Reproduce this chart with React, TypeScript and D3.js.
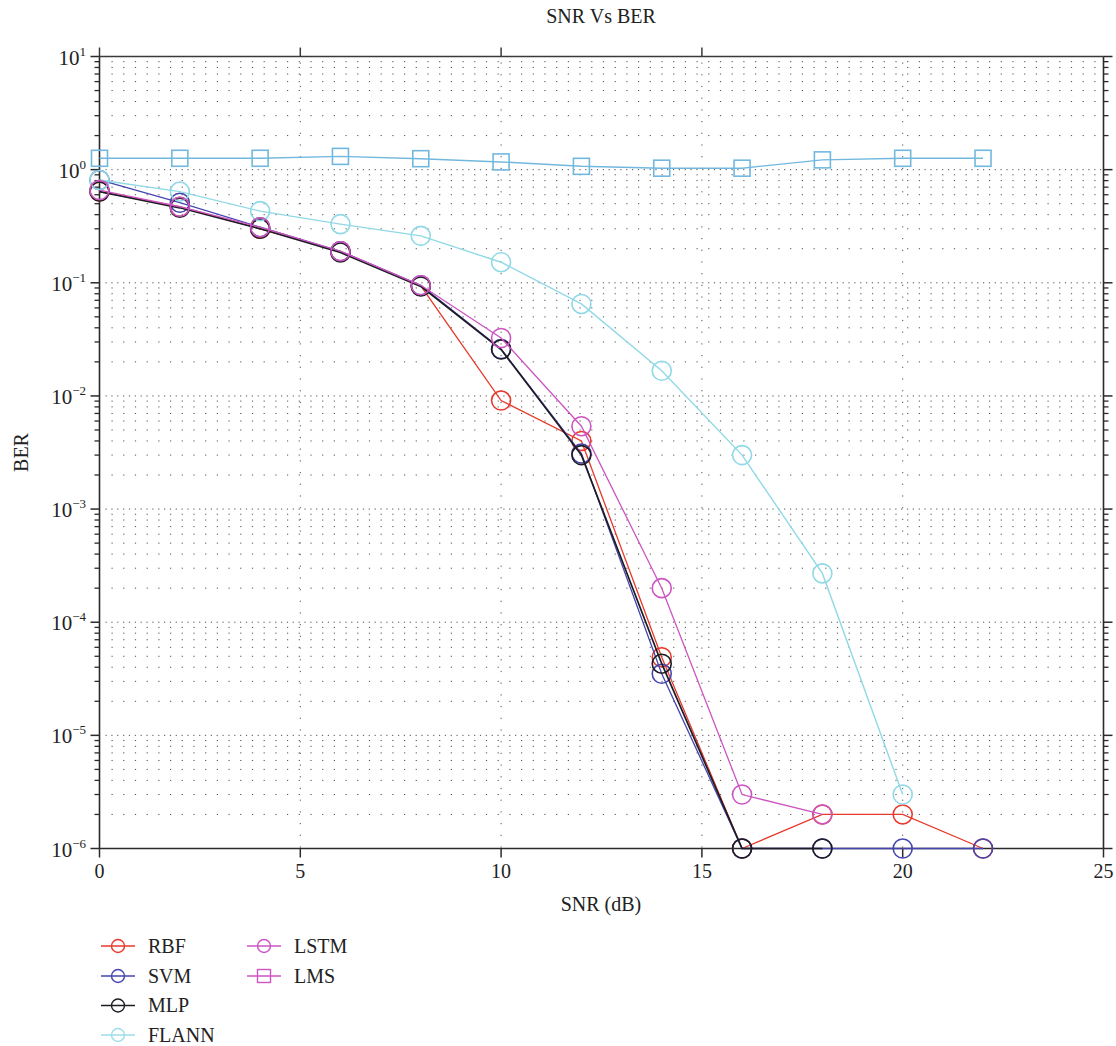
import React from "react";
import * as d3 from "d3";

const snr = [0, 2, 4, 6, 8, 10, 12, 14, 16, 18, 20, 22];
const rbf = [0.64, 0.47, 0.30, 0.19, 0.094, 0.0091, 0.0040, 4.9e-5, 1e-6, 2e-6, 2e-6, 1e-6];
const svm = [0.81, 0.51, 0.31, 0.19, 0.095, 0.026, 0.0031, 3.5e-5, 1e-6, 1e-6, 1e-6, 1e-6];
const mlp = [0.64, 0.46, 0.30, 0.185, 0.093, 0.0257, 0.0030, 4.3e-5, 1e-6, 1e-6];
const flann = [0.81, 0.64, 0.43, 0.33, 0.26, 0.152, 0.065, 0.0167, 0.0030, 2.7e-4, 3.0e-6];
const lstm = [0.66, 0.47, 0.31, 0.19, 0.095, 0.0325, 0.0054, 2.0e-4, 3.0e-6, 2.0e-6];
const lms = [1.26, 1.26, 1.26, 1.31, 1.25, 1.17, 1.07, 1.03, 1.03, 1.22, 1.26, 1.26];

const xTicks = [0, 5, 10, 15, 20, 25];
const xTopTicks = [0, 5, 10, 15];
const xGrid = [5, 10, 15, 20];
const yExponents = [1, 0, -1, -2, -3, -4, -5, -6];

const seriesDefs = [
  { name: "RBF", values: rbf, color: "#e8392b", legendColor: "#e8392b", marker: "circle", width: 1.3 },
  { name: "SVM", values: svm, color: "#4545b0", legendColor: "#4545b0", marker: "circle", width: 1.3 },
  { name: "MLP", values: mlp, color: "#1c1c24", legendColor: "#1c1c24", marker: "circle", width: 1.7 },
  { name: "FLANN", values: flann, color: "#90d9e6", legendColor: "#9fdde8", marker: "circle", width: 1.4 },
  { name: "LSTM", values: lstm, color: "#cc55c2", legendColor: "#cc55c2", marker: "circle", width: 1.3 },
  { name: "LMS", values: lms, color: "#72b8de", legendColor: "#cc55c2", marker: "square", width: 1.4 },
];

const FONT = "'Liberation Serif', 'Times New Roman', serif";

export default function App() {
  const left = 99.5, right = 1103.5, top = 56.5, bottom = 848.5;
  const x = d3.scaleLinear().domain([0, 25]).range([left, right]);
  const y = d3.scaleLog().domain([1e-6, 10]).range([bottom, top]);

  const minorVals: number[] = [];
  for (let k = -6; k <= 0; k++) {
    for (let m = 2; m <= 9; m++) minorVals.push(m * Math.pow(10, k));
  }
  const majorVals = yExponents.map((e) => Math.pow(10, e));

  const line = d3
    .line<[number, number]>()
    .x((d) => x(d[0]))
    .y((d) => y(d[1]));

  const legendRows = [946, 976, 1005.5, 1035];
  const legendItems = seriesDefs.map((s, i) => {
    const col = i < 4 ? 0 : 1;
    const row = i < 4 ? i : i - 4;
    return { ...s, lx: col === 0 ? 101 : 247, ly: legendRows[row] };
  });

  return (
    <svg
      width={1116}
      height={1046}
      style={{ position: "absolute", left: 0, top: 0, background: "#fff" }}
      fontFamily={FONT}
    >
      <rect x={0} y={0} width={1116} height={1046} fill="#fff" />
      {/* title */}
      <text x={601} y={23} textAnchor="middle" fontSize={20} fill="#222">
        SNR Vs BER
      </text>

      {/* horizontal minor grid */}
      {minorVals.map((v, i) => (
        <line
          key={"hm" + i}
          x1={left + 12}
          x2={right}
          y1={y(v)}
          y2={y(v)}
          stroke="#333"
          strokeWidth={1}
          strokeDasharray="1.2 10.5"
          opacity={0.85}
        />
      ))}
      {/* horizontal major grid */}
      {majorVals.slice(1, -1).map((v, i) => (
        <line
          key={"hM" + i}
          x1={left + 6}
          x2={right}
          y1={y(v)}
          y2={y(v)}
          stroke="#333"
          strokeWidth={1}
          strokeDasharray="1.2 4.65"
          opacity={0.85}
        />
      ))}
      {/* vertical grid */}
      {xGrid.map((v) => (
        <line
          key={"vg" + v}
          x1={x(v)}
          x2={x(v)}
          y1={top + 6}
          y2={bottom}
          stroke="#333"
          strokeWidth={1}
          strokeDasharray="1.2 10.5"
          opacity={0.85}
        />
      ))}

      {/* axes box */}
      <line x1={left} x2={right} y1={top} y2={top} stroke="#3a3a3a" strokeWidth={1.6} />
      <line x1={left} x2={right} y1={bottom} y2={bottom} stroke="#2a2a2a" strokeWidth={1.6} />
      <line x1={left} x2={left} y1={top} y2={bottom} stroke="#2a2a2a" strokeWidth={1.6} />
      <line x1={right} x2={right} y1={top} y2={bottom} stroke="#2a2a2a" strokeWidth={1.6} />

      {/* x ticks */}
      {xTicks.map((v) => (
        <g key={"xt" + v}>
          <line x1={x(v)} x2={x(v)} y1={bottom} y2={bottom + 9} stroke="#2a2a2a" strokeWidth={1.5} />
          <text x={x(v)} y={878} textAnchor="middle" fontSize={20} fill="#222">
            {v}
          </text>
        </g>
      ))}
      {xTopTicks.map((v) => (
        <line key={"xtt" + v} x1={x(v)} x2={x(v)} y1={top} y2={top - 9} stroke="#3a3a3a" strokeWidth={1.5} />
      ))}

      {/* y ticks */}
      {majorVals.map((v, i) => (
        <g key={"yt" + i}>
          <line x1={left - 9} x2={left} y1={y(v)} y2={y(v)} stroke="#2a2a2a" strokeWidth={1.5} />
          <line x1={right} x2={right + 9} y1={y(v)} y2={y(v)} stroke="#2a2a2a" strokeWidth={1.5} />
          <text x={86} y={y(v) + 8} textAnchor="end" fontSize={21} fill="#222">
            <tspan>10</tspan>
            <tspan dy={-9} fontSize={13}>
              {yExponents[i] < 0 ? "\u2212" + Math.abs(yExponents[i]) : String(yExponents[i])}
            </tspan>
          </text>
        </g>
      ))}
      {minorVals.map((v, i) => (
        <g key={"ymt" + i}>
          <line x1={left - 5} x2={left} y1={y(v)} y2={y(v)} stroke="#2a2a2a" strokeWidth={1.3} />
          <line x1={right} x2={right + 5} y1={y(v)} y2={y(v)} stroke="#2a2a2a" strokeWidth={1.3} />
        </g>
      ))}

      {/* axis labels */}
      <text x={601} y={911} textAnchor="middle" fontSize={20} fill="#222">
        SNR (dB)
      </text>
      <text
        transform={`translate(28, ${(top + bottom) / 2}) rotate(-90)`}
        textAnchor="middle"
        fontSize={20}
        fill="#222"
      >
        BER
      </text>

      {/* series */}
      {seriesDefs.map((s) => {
        const pts: [number, number][] = s.values.map((v, i) => [snr[i], v]);
        return (
          <g key={s.name}>
            <path d={line(pts) || ""} fill="none" stroke={s.color} strokeWidth={s.width} />
            {pts.map((p, i) =>
              s.marker === "circle" ? (
                <circle
                  key={i}
                  cx={x(p[0])}
                  cy={y(p[1])}
                  r={9.5}
                  fill="none"
                  stroke={s.color}
                  strokeWidth={1.6}
                />
              ) : (
                <rect
                  key={i}
                  x={x(p[0]) - 8}
                  y={y(p[1]) - 8}
                  width={16}
                  height={16}
                  fill="none"
                  stroke={s.color}
                  strokeWidth={1.6}
                />
              )
            )}
          </g>
        );
      })}

      {/* legend */}
      {legendItems.map((s) => (
        <g key={"lg" + s.name}>
          <line x1={s.lx} x2={s.lx + 34} y1={s.ly} y2={s.ly} stroke={s.legendColor} strokeWidth={1.4} />
          {s.marker === "circle" ? (
            <circle cx={s.lx + 17} cy={s.ly} r={6.5} fill="none" stroke={s.legendColor} strokeWidth={1.4} />
          ) : (
            <rect
              x={s.lx + 17 - 6.5}
              y={s.ly - 6.5}
              width={13}
              height={13}
              fill="none"
              stroke={s.legendColor}
              strokeWidth={1.4}
            />
          )}
          <text x={s.lx + 47} y={s.ly + 6.5} fontSize={20} fill="#222">
            {s.name}
          </text>
        </g>
      ))}
    </svg>
  );
}
